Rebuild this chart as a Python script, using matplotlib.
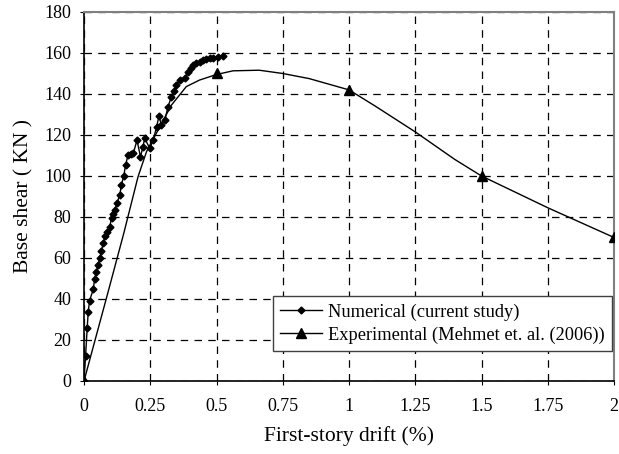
import matplotlib.pyplot as plt

plt.rcParams['font.family'] = ['Liberation Serif', 'DejaVu Serif']

# Numerical (current study)
num_x = [0.0, 0.006, 0.012, 0.016, 0.021, 0.035, 0.040, 0.047, 0.052, 0.060,
         0.066, 0.072, 0.079, 0.087, 0.097, 0.104, 0.110, 0.116, 0.125, 0.135,
         0.141, 0.150, 0.157, 0.166, 0.176, 0.186, 0.200, 0.213, 0.222, 0.229,
         0.248, 0.261, 0.274, 0.283, 0.292, 0.305, 0.317, 0.330, 0.340, 0.349,
         0.361, 0.380, 0.392, 0.402, 0.411, 0.424, 0.436, 0.449, 0.461, 0.474,
         0.486, 0.505, 0.524]
num_y = [0.0, 12.3, 25.7, 33.8, 39.2, 44.7, 49.8, 53.3, 56.6, 59.8,
         63.4, 67.2, 70.7, 72.8, 75.3, 79.4, 81.5, 83.4, 87.0, 90.7,
         95.6, 100.0, 105.4, 110.2, 110.5, 111.0, 117.5, 109.4, 114.0, 118.4,
         113.5, 117.5, 124.0, 129.3, 124.9, 127.3, 133.8, 138.7, 141.5, 144.4,
         146.8, 147.7, 150.9, 152.8, 154.1, 155.0, 155.8, 156.5, 157.0, 157.4,
         157.7, 158.2, 158.5]

# Experimental (Mehmet et. al. (2006)) - curve and measured points
exp_curve_x = [0.0, 0.09, 0.15, 0.204, 0.236, 0.286, 0.330, 0.386, 0.436,
               0.5, 0.562, 0.661, 0.75, 0.85, 1.0, 1.1, 1.25, 1.4, 1.5, 1.75, 2.0]
exp_curve_y = [0.0, 43.0, 72.0, 99.7, 111.9, 124.0, 134.6, 143.6, 146.8,
               149.5, 151.3, 151.6, 150.0, 147.5, 142.0, 134.0, 121.5, 108.0, 100.0, 84.5, 70.0]
exp_x = [0.0, 0.5, 1.0, 1.5, 2.0]
exp_y = [0.0, 150.0, 142.0, 100.0, 70.0]

fig = plt.figure(figsize=(6.19, 4.54), dpi=100)
ax = fig.add_axes([0.1357, 0.1608, 0.8563, 0.8128])

ax.plot(num_x, num_y, color='black', lw=1.0, marker='D', ms=3.5,
        label='Numerical (current study)', zorder=3)
ax.plot(exp_curve_x, exp_curve_y, color='black', lw=1.0, zorder=2)
ax.plot(exp_x, exp_y, color='black', lw=0, marker='^', ms=7, zorder=3)
# legend proxy for the experimental series
ax.plot([], [], color='black', lw=1.0, marker='^', ms=7,
        label='Experimental (Mehmet et. al. (2006))')

ax.set_xlim(0, 2)
ax.set_ylim(0, 180)
ax.set_xticks([0, 0.25, 0.5, 0.75, 1, 1.25, 1.5, 1.75, 2])
ax.set_xticklabels(['0', '0.25', '0.5', '0.75', '1', '1.25', '1.5', '1.75', '2'])
ax.set_yticks(range(0, 181, 20))
ax.grid(True, color='black', linestyle=(0, (6, 5)), lw=0.9)
ax.tick_params(direction='out', length=3, labelsize=13)
ax.tick_params(axis='x', pad=9)
ax.tick_params(axis='y', pad=6)

for s in ['top', 'right']:
    ax.spines[s].set_color('#808080')
    ax.spines[s].set_linewidth(1.5)
for s in ['left', 'bottom']:
    ax.spines[s].set_color('black')
    ax.spines[s].set_linewidth(1.2)

ax.set_xlabel('First-story drift (%)', fontsize=15.5, labelpad=8)
ax.set_ylabel('Base shear ( KN )', fontsize=15.5, labelpad=8)

leg = ax.legend(loc='lower right', bbox_to_anchor=(0.996, 0.081), fontsize=13.2,
                fancybox=False, framealpha=1, edgecolor='#404040',
                handlelength=2.3, borderpad=0.4, labelspacing=0.3,
                borderaxespad=0, handletextpad=0.3)
leg.get_frame().set_linewidth(1.0)

fig.savefig('out.png', dpi=100)
